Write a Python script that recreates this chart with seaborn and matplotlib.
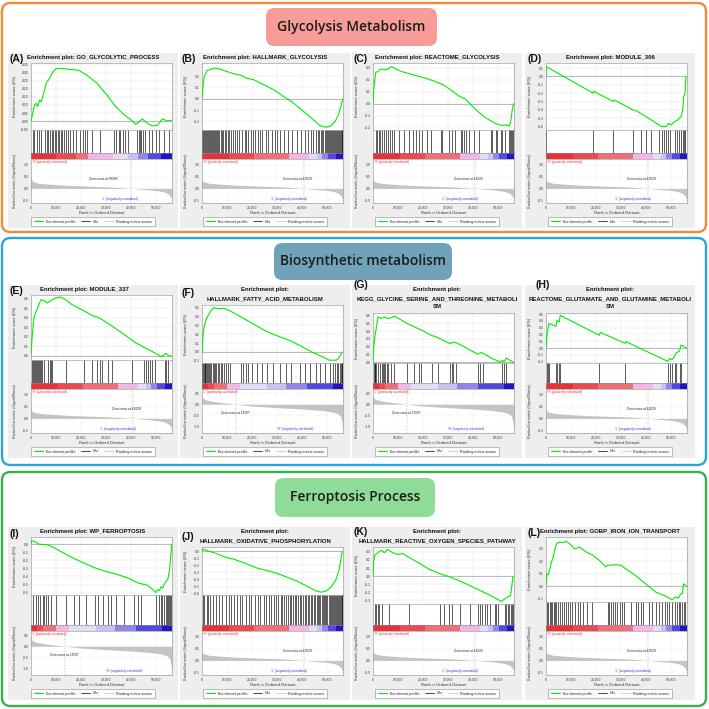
import numpy as np
import pandas as pd
import seaborn as sns
import matplotlib.pyplot as plt
from matplotlib.patches import FancyBboxPatch, Rectangle
from matplotlib.lines import Line2D

sns.set_theme(style="white")
plt.rcParams["font.family"] = ["Liberation Sans", "DejaVu Sans"]

FIG_PX = 709
N_K = 56.5  # list size in thousands

# ---- enrichment score curves: rank (thousands) / ES ----
es_rank_a = [0, 0.7, 1.4, 2.0, 2.7, 3.4, 4.1, 4.7, 5.4, 6.1, 7.4, 8.8, 10.1, 12.8, 15.5, 18.9, 22.3, 26.4, 30.4, 33.8, 37.2, 39.9, 41.9, 43.2, 44.6, 46.6, 48.6, 50.7, 52.7, 54.7, 56.3]
es_val_a = [0, 0.05, 0.10, 0.11, 0.09, 0.13, 0.12, 0.15, 0.19, 0.235, 0.265, 0.305, 0.326, 0.326, 0.32, 0.316, 0.286, 0.235, 0.163, 0.092, 0.041, 0.01, -0.02, -0.006, 0.014, -0.014, -0.03, -0.026, 0.014, 0.0, 0.006]
es_rank_b = [0, 0.4, 0.9, 2.0, 4.7, 6.7, 10.0, 12.7, 15.3, 18.0, 20.7, 24.7, 28.7, 32.7, 36.7, 40.7, 44.7, 47.3, 49.3, 51.3, 53.3, 54.7, 55.6, 56.4]
es_val_b = [0, 0.11, 0.197, 0.247, 0.27, 0.265, 0.24, 0.22, 0.21, 0.18, 0.168, 0.124, 0.08, 0.02, -0.038, -0.112, -0.185, -0.238, -0.25, -0.244, -0.2, -0.141, -0.068, 0.0]
es_rank_c = [0, 0.4, 1.1, 2.4, 3.1, 5.1, 6.4, 7.5, 9.1, 11.7, 15.1, 18.4, 21.1, 22.4, 25.1, 27.7, 30.4, 34.4, 37.1, 41.1, 45.1, 49.1, 51.7, 53.1, 54.4, 55.1, 55.5, 55.7, 56.3]
es_val_c = [0, 0.149, 0.26, 0.275, 0.29, 0.284, 0.295, 0.31, 0.29, 0.267, 0.247, 0.228, 0.213, 0.205, 0.183, 0.163, 0.126, 0.065, 0.037, -0.048, -0.118, -0.166, -0.183, -0.177, -0.188, -0.16, -0.104, -0.062, 0.0]
es_rank_d = [0, 0.05, 18.9, 19.1, 26.9, 27.3, 34.8, 36.2, 42.2, 46.1, 48.1, 49.2, 50.1, 51.5, 52.8, 54.1, 54.8, 55.2, 55.7, 56.1]
es_val_d = [0, 0.117, -0.2, -0.178, -0.3, -0.28, -0.4, -0.41, -0.52, -0.595, -0.6, -0.56, -0.58, -0.54, -0.52, -0.48, -0.4, -0.235, -0.215, 0.0]
es_rank_e = [0, 0.4, 0.9, 1.3, 2.0, 2.6, 3.3, 4.0, 5.3, 6.6, 7.3, 8.6, 9.9, 11.9, 13.9, 16.5, 19.2, 21.8, 24.4, 27.1, 29.7, 33.7, 37.6, 41.6, 45.6, 48.2, 52.2, 53.5, 54.2, 54.8, 56.4]
es_val_e = [0, 0.18, 0.325, 0.41, 0.466, 0.5, 0.55, 0.59, 0.58, 0.555, 0.57, 0.59, 0.608, 0.618, 0.59, 0.537, 0.5, 0.466, 0.424, 0.403, 0.36, 0.29, 0.219, 0.141, 0.085, 0.05, -0.01, 0.014, 0.025, 0.007, -0.007]
es_rank_f = [0, 0.4, 0.9, 2.0, 3.3, 4.6, 6.6, 8.6, 11.3, 15.3, 20.6, 25.9, 29.8, 35.1, 39.1, 44.4, 48.4, 51.0, 53.7, 55.0, 56.1]
es_val_f = [0, 0.185, 0.296, 0.39, 0.452, 0.5, 0.489, 0.493, 0.463, 0.4, 0.315, 0.23, 0.185, 0.13, 0.074, -0.007, -0.056, -0.093, -0.093, -0.067, 0.0]
es_rank_g = [0, 0.3, 0.7, 1.3, 2.0, 2.6, 3.3, 4.6, 5.9, 7.2, 8.5, 9.8, 13.8, 17.7, 19.7, 23.0, 25.6, 29.5, 30.8, 32.2, 33.5, 37.4, 42.0, 43.3, 44.0, 47.9, 51.2, 51.8, 52.5, 53.4, 56.4]
es_val_g = [0, 0.2, 0.32, 0.436, 0.58, 0.57, 0.56, 0.58, 0.56, 0.57, 0.59, 0.57, 0.494, 0.436, 0.41, 0.35, 0.32, 0.26, 0.24, 0.257, 0.25, 0.183, 0.105, 0.125, 0.117, 0.047, 0.0, 0.027, 0.008, 0.054, 0.0]
es_rank_h = [0, 0.3, 0.7, 1.1, 4.0, 4.4, 5.3, 5.7, 21.4, 21.7, 31.7, 31.9, 48.8, 49.5, 50.5, 51.5, 52.1, 53.5, 54.1, 56.4]
es_val_h = [0, 0.144, 0.253, 0.362, 0.32, 0.406, 0.384, 0.48, 0.188, 0.231, 0.07, 0.096, -0.196, -0.153, -0.17, -0.127, -0.074, -0.044, 0.044, 0.0]
es_rank_i = [0, 0.3, 1.3, 3.3, 6.7, 10.0, 14.7, 20.1, 25.4, 30.7, 33.4, 38.8, 42.8, 46.8, 50.1, 50.8, 51.5, 52.1, 52.8, 53.5, 54.8, 55.5, 55.9, 56.4]
es_val_i = [0, 0.044, 0.036, 0.0, -0.007, -0.055, -0.138, -0.218, -0.29, -0.345, -0.364, -0.418, -0.48, -0.51, -0.6, -0.564, -0.575, -0.527, -0.545, -0.49, -0.436, -0.327, -0.18, 0.0]
es_rank_j = [0, 0.7, 2.0, 4.6, 7.3, 9.9, 12.6, 15.3, 17.9, 21.9, 25.9, 29.8, 33.8, 37.8, 41.8, 45.8, 47.7, 49.7, 51.7, 53.7, 55.0, 56.1, 56.4]
es_val_j = [0, 0.03, 0.007, -0.018, -0.055, -0.09, -0.11, -0.145, -0.18, -0.236, -0.273, -0.31, -0.364, -0.418, -0.49, -0.564, -0.58, -0.564, -0.51, -0.4, -0.255, -0.018, 0.0]
es_rank_k = [0, 0.3, 0.7, 2.0, 3.3, 4.6, 5.9, 7.9, 9.9, 11.9, 14.5, 18.4, 22.4, 27.0, 30.3, 35.6, 40.8, 46.1, 50.1, 51.4, 52.7, 54.0, 55.1, 55.6, 56.1]
es_val_k = [0, 0.18, 0.26, 0.29, 0.318, 0.29, 0.33, 0.29, 0.267, 0.28, 0.229, 0.163, 0.085, 0.027, -0.004, -0.07, -0.147, -0.225, -0.29, -0.314, -0.283, -0.256, -0.244, -0.128, 0.0]
es_rank_l = [0, 0.3, 0.9, 1.6, 2.2, 2.9, 3.6, 4.2, 5.5, 6.9, 8.2, 9.5, 11.5, 13.5, 16.1, 18.8, 21.4, 24.0, 24.7, 28.0, 30.0, 32.0, 35.9, 39.9, 43.9, 47.8, 50.5, 51.8, 53.1, 54.0, 54.7, 55.1, 56.4]
es_val_l = [0, 0.1, 0.093, 0.14, 0.195, 0.235, 0.3, 0.34, 0.355, 0.35, 0.36, 0.34, 0.3, 0.313, 0.275, 0.248, 0.208, 0.155, 0.168, 0.173, 0.168, 0.14, 0.087, 0.021, -0.045, -0.077, -0.107, -0.085, -0.093, -0.059, -0.059, 0.021, 0.0]

# ---- hit positions (thousands) ----
hits_a = [0.7, 1.4, 2.3, 3.1, 4.1, 5.8, 6.4, 7.0, 7.7, 8.4, 8.8, 9.5, 10.1, 10.8, 11.2, 11.9, 12.6, 13.2, 13.9, 14.9, 15.8, 16.9, 18.0, 19.6, 20.9, 21.8, 22.6, 24.3, 27.7, 33.4, 34.2, 35.1, 35.8, 36.8, 37.8, 38.8, 42.6, 43.1, 43.6, 44.2, 44.9, 45.5, 47.3, 48.6, 50.0, 51.4, 53.4, 55.4]
hits_b = [0.2, 0.5, 0.9, 1.2, 1.6, 2.0, 2.4, 2.7, 3.1, 3.5, 3.9, 4.3, 4.8, 5.2, 5.7, 6.1, 6.6, 7.0, 7.5, 8.0, 8.6, 9.1, 9.7, 10.3, 10.9, 11.6, 12.3, 13.2, 14.0, 14.9, 16.0, 17.1, 17.8, 18.6, 19.5, 20.6, 21.4, 22.5, 23.1, 24.2, 25.6, 26.4, 27.9, 29.3, 30.1, 31.4, 32.8, 34.6, 36.2, 38.0, 39.5, 41.2, 42.4, 43.6, 44.5, 45.6, 46.3, 47.0, 47.6, 48.1, 48.6, 49.1, 49.5, 49.9, 50.3, 50.7, 51.1, 51.5, 51.9, 52.3, 52.7, 53.1, 53.5, 53.9, 54.3, 54.7, 55.1, 55.5, 55.9, 56.2]
hits_c = [1.1, 1.7, 2.4, 2.8, 3.7, 4.4, 5.1, 6.0, 6.7, 7.5, 8.4, 10.4, 12.4, 14.4, 16.0, 17.1, 18.4, 19.5, 21.7, 23.1, 27.1, 27.7, 30.4, 31.7, 32.8, 35.1, 35.7, 36.4, 37.1, 38.4, 40.4, 42.4, 47.1, 47.7, 49.1, 49.7, 51.1, 51.7, 52.8, 54.4, 54.9, 55.3, 55.7, 56.1]
hits_d = [0.1, 18.9, 26.9, 34.8, 38.1, 40.1, 42.1, 45.4, 46.5, 47.2, 48.0, 48.8, 49.5, 51.7, 52.5, 53.2, 54.0, 54.7, 55.3, 55.8]
hits_e = [0.4, 0.8, 1.2, 1.6, 2.0, 2.4, 2.8, 3.3, 3.7, 4.2, 4.6, 5.3, 7.0, 7.5, 8.1, 8.6, 13.9, 21.1, 24.4, 26.4, 27.7, 28.4, 31.0, 32.4, 40.3, 45.3, 46.2, 46.9, 47.6, 48.5, 49.5, 53.5, 54.2, 54.8]
hits_f = [0.2, 0.5, 0.8, 1.1, 1.4, 1.8, 2.2, 2.6, 3.0, 3.4, 3.8, 4.3, 4.8, 5.3, 5.8, 6.3, 6.9, 7.5, 8.1, 8.8, 9.5, 10.3, 11.2, 15.6, 16.5, 17.6, 18.4, 19.9, 21.9, 23.9, 25.9, 28.5, 31.2, 33.8, 35.8, 39.1, 41.1, 43.1, 45.8, 47.1, 49.1, 51.1, 52.4, 53.3, 54.0, 54.6, 55.1, 55.5, 55.9, 56.2]
hits_g = [0.3, 0.7, 1.0, 1.4, 2.0, 3.0, 3.5, 3.9, 4.6, 5.0, 5.6, 6.2, 7.2, 8.3, 13.8, 16.4, 18.6, 19.3, 23.6, 26.2, 30.8, 31.5, 32.2, 33.2, 42.0, 42.9, 44.0, 51.8, 52.5, 53.4]
hits_h = [0.3, 0.7, 1.1, 4.0, 4.4, 5.3, 5.7, 21.4, 31.7, 48.8, 49.5, 50.5, 51.5, 52.1, 53.5, 54.1]
hits_i = [0.7, 2.0, 2.7, 3.7, 4.7, 5.3, 6.0, 7.0, 8.0, 10.0, 14.0, 17.4, 19.4, 22.1, 25.8, 26.7, 28.7, 30.7, 32.1, 34.1, 37.4, 41.4, 42.8, 44.1, 50.1, 51.1, 51.9, 52.5, 53.2, 53.9, 54.4, 54.8, 55.2, 55.6, 56.0, 56.3]
hits_j = [0.3, 1.0, 1.9, 2.6, 3.4, 4.6, 5.7, 6.8, 8.2, 9.5, 10.8, 11.6, 12.9, 14.0, 15.2, 16.1, 17.5, 18.9, 19.8, 21.2, 22.6, 23.4, 24.7, 25.8, 26.9, 27.8, 28.9, 29.7, 30.6, 31.5, 32.2, 33.0, 33.8, 34.5, 35.1, 35.8, 36.5, 37.2, 37.8, 38.5, 39.2, 39.8, 40.5, 41.1, 41.8, 42.4, 43.0, 43.6, 44.2, 44.8, 45.3, 45.9, 46.4, 46.9, 47.4, 47.9, 48.4, 48.9, 49.3, 49.8, 50.2, 50.7, 51.1, 51.5, 51.9, 52.3, 52.7, 53.1, 53.5, 53.9, 54.3, 54.7, 55.1, 55.5, 55.9, 56.2]
hits_k = [0.7, 1.3, 2.0, 2.6, 3.7, 6.6, 14.5, 27.0, 28.3, 30.3, 31.6, 34.9, 38.9, 42.2, 42.8, 43.5, 44.8, 45.8, 46.8, 48.7, 49.4, 50.1, 52.7, 53.4, 54.0, 54.5, 55.1, 55.5, 55.9]
hits_l = [0.3, 0.9, 1.6, 2.1, 2.6, 3.2, 3.7, 4.2, 4.9, 5.5, 6.3, 7.1, 7.9, 8.9, 9.8, 10.6, 11.6, 12.8, 13.7, 14.8, 16.4, 18.5, 24.7, 25.4, 26.2, 26.9, 27.7, 28.5, 29.6, 30.4, 31.3, 33.9, 35.9, 37.0, 37.9, 38.8, 41.2, 42.5, 43.9, 45.2, 46.5, 47.6, 48.5, 49.4, 50.5, 51.5, 52.4, 53.1, 53.8, 54.4, 55.1, 55.7]

# ---- ranked list metric (thousands / Signal2Noise) ----
met_rank_pos = [0, 0.3, 1, 3, 6, 10, 15, 20, 25, 30, 35, 41, 45, 48, 51, 53, 54.5, 55.5, 56.1, 56.4]
met_val_pos = [0.45, 0.33, 0.27, 0.22, 0.19, 0.16, 0.13, 0.11, 0.09, 0.07, 0.045, 0.0, -0.035, -0.06, -0.1, -0.14, -0.2, -0.28, -0.38, -0.45]
met_rank_a = [0, 0.3, 1, 3, 6, 10, 15, 20, 25, 30, 35, 40, 45, 48, 51, 53, 54.5, 55.5, 56.1, 56.4]
met_val_a = [0.5, 0.36, 0.28, 0.22, 0.19, 0.16, 0.13, 0.11, 0.09, 0.065, 0.04, 0.0, -0.04, -0.065, -0.1, -0.14, -0.2, -0.28, -0.38, -0.45]
met_rank_neg = [0, 0.5, 2, 5, 9, 13.6, 20, 30, 40, 48, 52, 54.5, 55.6, 56.1, 56.4]
met_val_neg = [0.35, 0.25, 0.18, 0.12, 0.06, 0.0, -0.08, -0.15, -0.21, -0.28, -0.34, -0.42, -0.55, -0.8, -1.2]

# ---- heat bar segments (thousands) ----
cb_colors = ["#e8323a", "#ec4a52", "#f06e76", "#f4b6e2", "#e2def6", "#c6c2f2", "#8e86ec", "#5448e0", "#2214c4"]
cb_bounds_pos = [0, 11, 21, 35, 43, 46, 48, 50.5, 53.5, N_K]
cb_bounds_a = [0, 10, 18, 23, 33, 39, 43, 47, 52, N_K]
cb_bounds_neg = [0, 2.5, 5, 9.9, 15.3, 25.9, 33.8, 42, 52.4, N_K]

RANKINGS = {
    "a": dict(mr=met_rank_a, mv=met_val_a, bounds=cb_bounds_a, zc=40.0, zc_text="Zero cross at 39999",
              zc_xy=(29, 0.42), up="'H' (positively correlated)", down="'L' (negatively correlated)",
              down_xy=(35.8, -0.45), ylim=(-0.62, 1.25), yticks=[-0.5, 0.0, 0.5, 1.0]),
    "pos": dict(mr=met_rank_pos, mv=met_val_pos, bounds=cb_bounds_pos, zc=41.0, zc_text="Zero cross at 41029",
                zc_xy=(38, 0.4), up="'H' (positively correlated)", down="'L' (negatively correlated)",
                down_xy=(35, -0.45), ylim=(-0.62, 1.25), yticks=[-0.5, 0.0, 0.5, 1.0]),
    "neg": dict(mr=met_rank_neg, mv=met_val_neg, bounds=cb_bounds_neg, zc=13.6, zc_text="Zero cross at 13597",
                zc_xy=(13.4, -0.37), up="'L' (positively correlated)", down="'H' (negatively correlated)",
                down_xy=(37.5, -1.12), ylim=(-1.28, 0.68), yticks=[-1.0, -0.5, 0.0, 0.5]),
}

PANELS = [
    dict(tag="(A)", title=["Enrichment plot: GO_GLYCOLYTIC_PROCESS"], r=es_rank_a, v=es_val_a, hits=hits_a,
         ylim=(-0.055, 0.36), yt=[-0.05, 0.0, 0.05, 0.1, 0.15, 0.2, 0.25, 0.3, 0.35], fmt="{:.2f}", rk="a", tag_dy=6),
    dict(tag="(B)", title=["Enrichment plot: HALLMARK_GLYCOLYSIS"], r=es_rank_b, v=es_val_b, hits=hits_b,
         ylim=(-0.275, 0.315), yt=[-0.2, -0.1, 0.0, 0.1, 0.2], fmt="{:.1f}", rk="pos", tag_dy=6),
    dict(tag="(C)", title=["Enrichment plot: REACTOME_GLYCOLYSIS"], r=es_rank_c, v=es_val_c, hits=hits_c,
         ylim=(-0.22, 0.34), yt=[-0.2, -0.1, 0.0, 0.1, 0.2, 0.3], fmt="{:.1f}", rk="pos", tag_dy=6),
    dict(tag="(D)", title=["Enrichment plot: MODULE_306"], r=es_rank_d, v=es_val_d, hits=hits_d,
         ylim=(-0.64, 0.16), yt=[-0.6, -0.5, -0.4, -0.3, -0.2, -0.1, 0.0, 0.1], fmt="{:.1f}", rk="pos", tag_dy=6),
    dict(tag="(E)", title=["Enrichment plot: MODULE_337"], r=es_rank_e, v=es_val_e, hits=hits_e,
         ylim=(-0.045, 0.64), yt=[0.0, 0.1, 0.2, 0.3, 0.4, 0.5, 0.6], fmt="{:.1f}", rk="pos", tag_dy=6, title_dx=-9),
    dict(tag="(F)", title=["Enrichment plot:", "HALLMARK_FATTY_ACID_METABOLISM"], r=es_rank_f, v=es_val_f, hits=hits_f,
         ylim=(-0.125, 0.53), yt=[-0.1, 0.0, 0.1, 0.2, 0.3, 0.4, 0.5], fmt="{:.1f}", rk="neg", tag_dy=8, hit_h=20),
    dict(tag="(G)", title=["Enrichment plot:", "KEGG_GLYCINE_SERINE_AND_THREONINE_METABOLI", "SM"], r=es_rank_g, v=es_val_g,
         hits=hits_g, ylim=(-0.008, 0.63), yt=[0.0, 0.1, 0.2, 0.3, 0.4, 0.5, 0.6], fmt="{:.1f}", rk="neg", tag_dy=0, hit_h=20),
    dict(tag="(H)", title=["Enrichment plot:", "REACTOME_GLUTAMATE_AND_GLUTAMINE_METABOLI", "SM"], r=es_rank_h, v=es_val_h,
         hits=hits_h, ylim=(-0.22, 0.515), yt=[-0.2, -0.1, 0.0, 0.1, 0.2, 0.3, 0.4, 0.5], fmt="{:.1f}", rk="pos",
         tag_dy=0, tag_dx=9, hit_h=20),
    dict(tag="(I)", title=["Enrichment plot: WP_FERROPTOSIS"], r=es_rank_i, v=es_val_i, hits=hits_i,
         ylim=(-0.63, 0.09), yt=[-0.6, -0.5, -0.4, -0.3, -0.2, -0.1, 0.0], fmt="{:.1f}", rk="neg", tag_dy=7, hit_h=30),
    dict(tag="(J)", title=["Enrichment plot:", "HALLMARK_OXIDATIVE_PHOSPHORYLATION"], r=es_rank_j, v=es_val_j, hits=hits_j,
         ylim=(-0.62, 0.06), yt=[-0.6, -0.5, -0.4, -0.3, -0.2, -0.1, 0.0], fmt="{:.1f}", rk="pos", tag_dy=10, hit_h=30),
    dict(tag="(K)", title=["Enrichment plot:", "HALLMARK_REACTIVE_OXYGEN_SPECIES_PATHWAY"], r=es_rank_k, v=es_val_k,
         hits=hits_k, ylim=(-0.345, 0.36), yt=[-0.3, -0.2, -0.1, 0.0, 0.1, 0.2, 0.3], fmt="{:.1f}", rk="pos", tag_dy=5,
         hit_h=21),
    dict(tag="(L)", title=["Enrichment plot: GOBP_IRON_ION_TRANSPORT"], r=es_rank_l, v=es_val_l, hits=hits_l,
         ylim=(-0.125, 0.395), yt=[-0.1, 0.0, 0.1, 0.2, 0.3], fmt="{:.1f}", rk="pos", tag_dy=6),
]

SECTIONS = [
    dict(name="Glycolysis Metabolism", edge="#f28a36", fill="#f89c9a", box=(2, 3, 704, 229), tbox=(266, 8, 171, 38)),
    dict(name="Biosynthetic metabolism", edge="#2aa4e0", fill="#6fa3ba", box=(2, 238, 704, 227), tbox=(274, 243, 178, 37)),
    dict(name="Ferroptosis Process", edge="#35b34a", fill="#8fdc98", box=(2, 472, 704, 234), tbox=(275, 478, 160, 39)),
]

# ---- layout (pixels) ----
PLOT_X = [31, 202, 373, 546]
PLOT_W = 141
GRAY_X = [8, 180, 352, 525]
GRAY_W = 170
ROW_TOP = [53, 285, 527]
ROW_BOT = [228, 458, 700]
METRIC_BOT = [203, 433, 675]
MET_H, CB_H, HIT_H = 44, 6, 23
X_TICKS = [0, 10, 20, 30, 40, 50]


def fig_rect(x, y, w, h):
    return [x / FIG_PX, 1 - (y + h) / FIG_PX, w / FIG_PX, h / FIG_PX]


def fx(x):
    return x / FIG_PX


def fy(y):
    return 1 - y / FIG_PX


def frame(ax):
    for s in ax.spines.values():
        s.set_visible(True)
        s.set_color("#8c8c8c")
        s.set_linewidth(0.4)
    ax.tick_params(length=1.2, width=0.3, pad=0.8, labelsize=2.4, colors="#333333")


fig = plt.figure(figsize=(7.09, 7.09), dpi=100)

for sec in SECTIONS:
    x, y, w, h = sec["box"]
    fig.patches.append(FancyBboxPatch((fx(x), fy(y + h)), w / FIG_PX, h / FIG_PX,
                                      boxstyle="round,pad=0,rounding_size=0.012", transform=fig.transFigure,
                                      facecolor="white", edgecolor=sec["edge"], linewidth=1.7, zorder=-3))
    x, y, w, h = sec["tbox"]
    fig.patches.append(FancyBboxPatch((fx(x), fy(y + h)), w / FIG_PX, h / FIG_PX,
                                      boxstyle="round,pad=0,rounding_size=0.012", transform=fig.transFigure,
                                      facecolor=sec["fill"], edgecolor="none", zorder=-1))
    fig.text(fx(x + w / 2), fy(y + h / 2), sec["name"], family=["Open Sans", "DejaVu Sans"],
             fontsize=10, fontweight="semibold", color="#1c1c1c", ha="center", va="center")

legend_handles = [Line2D([], [], color="#00ee00", lw=0.8),
                  Line2D([], [], color="black", lw=0.5),
                  Line2D([], [], color="#c4c4c4", lw=0.5)]
legend_labels = ["Enrichment profile", "Hits", "Ranking metric scores"]

for i, p in enumerate(PANELS):
    row, col = divmod(i, 4)
    g = RANKINGS[p["rk"]]
    gx, gy0, gy1 = GRAY_X[col], ROW_TOP[row], ROW_BOT[row]
    x0 = PLOT_X[col]
    mb = METRIC_BOT[row]
    fig.patches.append(Rectangle((fx(gx), fy(gy1)), GRAY_W / FIG_PX, (gy1 - gy0) / FIG_PX,
                                 transform=fig.transFigure, facecolor="#eeeeee", edgecolor="none", zorder=-2))

    # title and panel tag
    n_lines = len(p["title"])
    es_top = gy0 + {1: 10, 2: 20, 3: 28}[n_lines]
    cx = gx + GRAY_W / 2 + p.get("title_dx", 0)
    for k, line in enumerate(p["title"]):
        fig.text(fx(cx), fy(gy0 + 5 + k * 8.5), line, fontsize=4.3, fontweight="bold",
                 ha="center", va="center", color="#111111")
    fig.text(fx(gx + 2 + p.get("tag_dx", 0)), fy(gy0 + p["tag_dy"]), p["tag"], fontsize=7.5,
             fontweight="bold", ha="left", va="center", color="#111111")

    hit_h = p.get("hit_h", HIT_H)
    met_top = mb - MET_H
    cb_top = met_top - CB_H
    hit_top = cb_top - hit_h
    es_h = hit_top - es_top

    # enrichment score
    ax = fig.add_axes(fig_rect(x0, es_top, PLOT_W, es_h))
    ax.set_facecolor("white")
    ax.axhline(0, color="#a0a0a0", lw=0.5, zorder=1)
    sns.lineplot(x=p["r"], y=p["v"], ax=ax, color="#00ee00", lw=0.8, sort=False,
                 estimator=None, legend=False, zorder=3)
    ax.set_xlim(0, N_K)
    ax.set_ylim(*p["ylim"])
    ax.set_xticks(X_TICKS)
    ax.set_xticklabels([])
    ax.set_yticks(p["yt"])
    ax.set_yticklabels([p["fmt"].format(t) for t in p["yt"]])
    ax.grid(True, color="#e4e4e4", lw=0.35)
    frame(ax)
    ax.tick_params(axis="x", length=0)
    ax.set_xlabel("")
    ax.set_ylabel("Enrichment score (ES)", fontsize=3, color="#333333")
    ax.yaxis.set_label_coords(-0.1, 0.5)

    # hits
    axh = fig.add_axes(fig_rect(x0, hit_top, PLOT_W, hit_h))
    axh.set_facecolor("white")
    axh.vlines(p["hits"], 0, 1, color="black", lw=0.45)
    axh.set_xlim(0, N_K)
    axh.set_ylim(0, 1)
    axh.set_xticks([])
    axh.set_yticks([])
    frame(axh)

    # heat bar
    axc = fig.add_axes(fig_rect(x0, cb_top, PLOT_W, CB_H))
    b = g["bounds"]
    for lo, hi, c in zip(b[:-1], b[1:], cb_colors):
        axc.axvspan(lo, hi, color=c, lw=0)
    axc.set_xlim(0, N_K)
    axc.set_xticks([])
    axc.set_yticks([])
    frame(axc)

    # ranked list metric
    axm = fig.add_axes(fig_rect(x0, met_top, PLOT_W, MET_H))
    axm.set_facecolor("white")
    axm.fill_between(g["mr"], 0, g["mv"], color="#c4c4c4", lw=0, zorder=2)
    axm.axvline(g["zc"], color="#9a9a9a", lw=0.35, ls=(0, (3, 3)), zorder=2)
    axm.set_xlim(0, N_K)
    axm.set_ylim(*g["ylim"])
    axm.set_yticks(g["yticks"])
    axm.set_yticklabels([f"{t:.1f}" for t in g["yticks"]])
    axm.set_xticks(X_TICKS)
    axm.set_xticklabels([f"{int(t * 1000):,}" for t in X_TICKS])
    axm.grid(True, color="#ececec", lw=0.3)
    frame(axm)
    axm.text(*g["zc_xy"], g["zc_text"], fontsize=2.3, ha="center", va="center", color="#222222")
    axm.text(0.6, g["ylim"][1] - 0.03, g["up"], fontsize=2.3, ha="left", va="top", color="#e02a2a")
    axm.text(*g["down_xy"], g["down"], fontsize=2.3, ha="center", va="center", color="#3a34e0")
    axm.set_xlabel("Rank in Ordered Dataset", fontsize=3, color="#333333", labelpad=1)
    axm.set_ylabel("Ranked list metric (Signal2Noise)", fontsize=2.6, color="#333333")
    axm.yaxis.set_label_coords(-0.1, 0.5)

    leg = fig.legend(legend_handles, legend_labels, loc="center",
                     bbox_to_anchor=(fx(gx + GRAY_W / 2), fy(gy1 - 6.5)), ncol=3, fontsize=2.6,
                     frameon=True, fancybox=False, edgecolor="#777777", facecolor="white",
                     handlelength=2.6, handletextpad=0.6, columnspacing=1.6, borderpad=0.7)
    leg.get_frame().set_linewidth(0.4)

fig.savefig("out.png", dpi=100)
